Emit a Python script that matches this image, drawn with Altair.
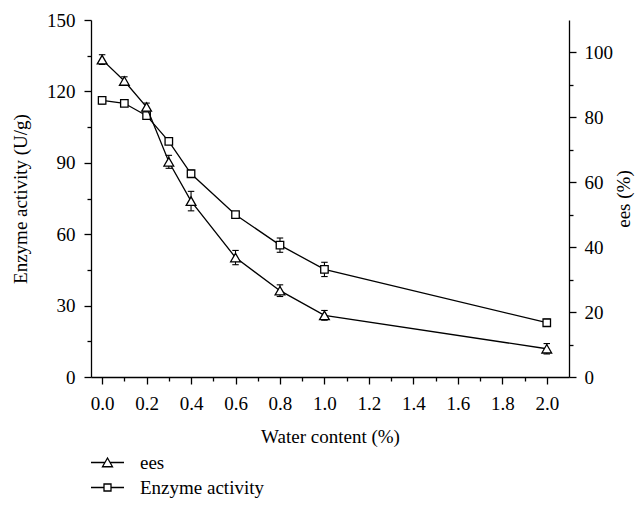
import altair as alt
import pandas as pd

# ---- data ----
water = [0.0, 0.1, 0.2, 0.3, 0.4, 0.6, 0.8, 1.0, 2.0]
ees = [97.8, 91.2, 83.2, 66.3, 54.2, 36.8, 26.6, 19.0, 8.7]
ees_err = [1.5, 1.3, 1.2, 2.0, 3.0, 2.2, 1.8, 1.5, 1.6]
enzyme = [116.2, 115.0, 109.8, 99.0, 85.4, 68.2, 55.4, 45.2, 22.8]
enzyme_err = [1.5, 1.0, 1.5, 1.0, 1.5, 1.0, 3.0, 3.0, 1.5]

series_names = ["ees", "Enzyme activity"]
x_ticks = [round(i * 0.1, 1) for i in range(21)]
left_ticks = list(range(0, 151, 15))
right_ticks = list(range(0, 101, 10))

df = pd.DataFrame({
    "water": water,
    "ees": ees,
    "ees_lo": [v - e for v, e in zip(ees, ees_err)],
    "ees_hi": [v + e for v, e in zip(ees, ees_err)],
    "enz": enzyme,
    "enz_lo": [v - e for v, e in zip(enzyme, enzyme_err)],
    "enz_hi": [v + e for v, e in zip(enzyme, enzyme_err)],
})
legend_df = pd.DataFrame({"series": series_names})

FONT = "Liberation Serif"
FS = 19
LW = 1.3

x_axis = alt.Axis(
    values=x_ticks,
    labelExpr="round(datum.value*10) % 2 == 0 ? format(datum.value, '.1f') : ''",
    tickSize={"condition": {"test": "round(datum.value*10) % 2 == 0", "value": 7}, "value": 4},
    labelPadding=10,
    title="Water content (%)",
    titlePadding=14,
    grid=False,
)
x_enc = alt.X("water:Q", scale=alt.Scale(domain=[-0.05, 2.1], nice=False, zero=False), axis=x_axis)

left_axis = alt.Axis(
    values=left_ticks,
    labelExpr="datum.value % 30 == 0 ? datum.label : ''",
    tickSize={"condition": {"test": "datum.value % 30 == 0", "value": 7}, "value": 4},
    labelPadding=9,
    title="Enzyme activity (U/g)",
    titlePadding=16,
    orient="left",
    grid=False,
)
right_axis = alt.Axis(
    values=right_ticks,
    labelExpr="datum.value % 20 == 0 ? datum.label : ''",
    tickSize={"condition": {"test": "datum.value % 20 == 0", "value": 7}, "value": 4},
    labelPadding=8,
    title="ees (%)",
    titlePadding=2,
    titleAngle=270,
    titleBaseline="top",
    orient="right",
    grid=False,
)
left_scale = alt.Scale(domain=[0, 150], nice=False)
right_scale = alt.Scale(domain=[0, 110], nice=False)

CAP = "M-1,0L1,0"
base = alt.Chart(df)


def group(val, lo, hi, scale, axis, shape, size):
    line = base.mark_line(color="black", strokeWidth=LW).encode(
        x=x_enc, y=alt.Y(f"{val}:Q", scale=scale, axis=axis))
    rule = base.mark_rule(color="black", strokeWidth=1.1).encode(
        x=x_enc, y=alt.Y(f"{lo}:Q", scale=scale, axis=axis), y2=f"{hi}:Q")
    cap_lo = base.mark_point(shape=CAP, size=42, color="black", strokeWidth=1.1, opacity=1).encode(
        x=x_enc, y=alt.Y(f"{lo}:Q", scale=scale, axis=axis))
    cap_hi = base.mark_point(shape=CAP, size=42, color="black", strokeWidth=1.1, opacity=1).encode(
        x=x_enc, y=alt.Y(f"{hi}:Q", scale=scale, axis=axis))
    pts = base.mark_point(shape=shape, size=size, filled=True, fill="white", stroke="black",
                          strokeWidth=LW, opacity=1).encode(
        x=x_enc, y=alt.Y(f"{val}:Q", scale=scale, axis=axis))
    return [line, rule, cap_lo, cap_hi, pts]


TRI_LEG = "M-1.32,0H-0.2M0.2,0H1.32M-0.4,0.34L0,-0.36L0.4,0.34Z"
SQ_LEG = "M-1.32,0H-0.28M0.28,0H1.32M-0.28,-0.28H0.28V0.28H-0.28Z"

legend_layer = alt.Chart(legend_df).mark_point(size=0, filled=False, color="black", opacity=1).encode(
    shape=alt.Shape(
        "series:N",
        scale=alt.Scale(domain=series_names, range=[TRI_LEG, SQ_LEG]),
        legend=alt.Legend(
            orient="none", legendX=3, legendY=429, direction="vertical", title=None,
            padding=0, symbolSize=625, symbolStrokeWidth=LW, symbolStrokeColor="black",
            symbolFillColor="white", symbolOpacity=1, labelFont=FONT, labelFontSize=FS,
            labelColor="black", labelOffset=19, rowPadding=1, labelLimit=400,
        ),
    )
)

left_group = alt.layer(*group("enz", "enz_lo", "enz_hi", left_scale, left_axis, "square", 56), legend_layer)
right_group = alt.layer(*group("ees", "ees_lo", "ees_hi", right_scale, right_axis, "triangle-up", 95))

chart = alt.layer(left_group, right_group).resolve_scale(y="independent").properties(
    width=478, height=357,
    autosize=alt.AutoSizeParams(type="none"),
    padding={"left": 83, "top": 12, "right": 67, "bottom": 122},
).configure_view(stroke=None).configure_axis(
    labelFont=FONT, titleFont=FONT, labelFontSize=FS, titleFontSize=FS,
    labelColor="black", titleColor="black", titleFontWeight="normal",
    domainColor="black", tickColor="black", domainWidth=LW, tickWidth=LW,
)

chart.save("out.html", embed_options={"renderer": "svg", "actions": False})
